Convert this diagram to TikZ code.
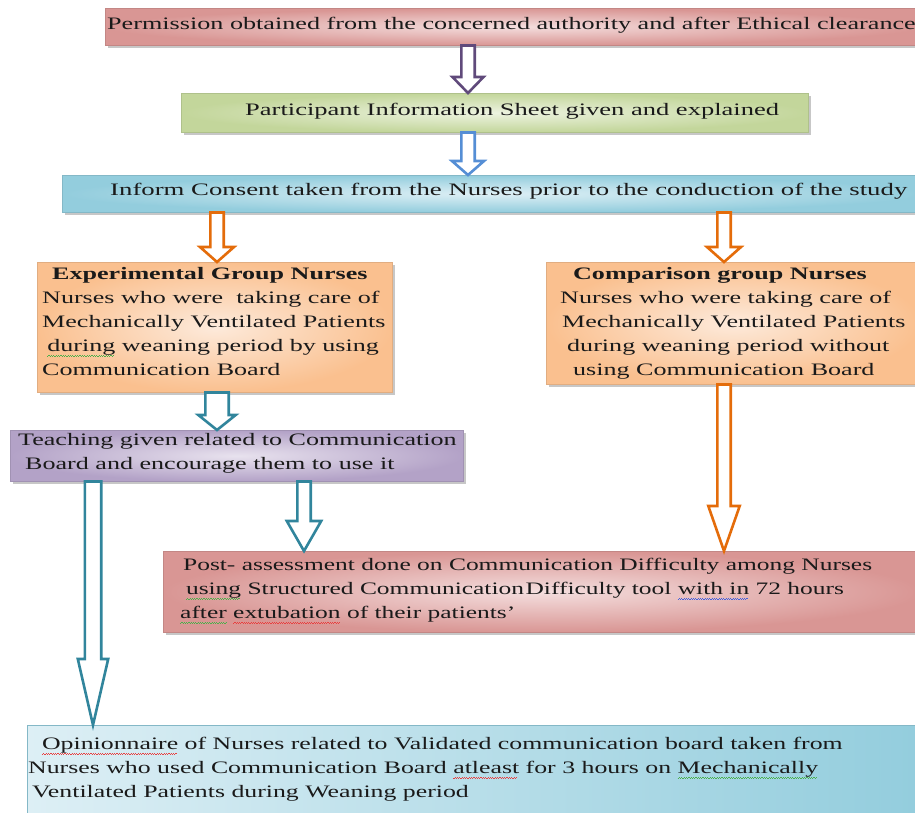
\documentclass[tikz,border=0pt]{standalone}
\usepackage{fontspec}
\setmainfont{Liberation Serif}
\usetikzlibrary{calc,shadows}
\definecolor{redD}{HTML}{D99694}
\definecolor{redL}{HTML}{F4DEDE}
\definecolor{grnD}{HTML}{C3D69B}
\definecolor{grnL}{HTML}{EDF3E0}
\definecolor{bluD}{HTML}{93CDDD}
\definecolor{bluL}{HTML}{DDEFF5}
\definecolor{orgD}{HTML}{FAC08F}
\definecolor{orgL}{HTML}{FDEADB}
\definecolor{purD}{HTML}{B3A2C7}
\definecolor{purL}{HTML}{E8E2EE}
\definecolor{arPur}{HTML}{604A7B}
\definecolor{arBlu}{HTML}{558ED5}
\definecolor{arOrg}{HTML}{E46C0A}
\definecolor{arTea}{HTML}{31859C}
\definecolor{txtc}{HTML}{1A1A1A}
\definecolor{sqGrn}{HTML}{4CB04C}
\definecolor{sqRed}{HTML}{E84040}
\definecolor{sqBlu}{HTML}{4060E0}
\newsavebox\sqbox
\newcommand\wtext[2][1.49]{\scalebox{#1}[1]{\fontsize{17.5}{24}\selectfont\begin{tabular}{@{}l@{}}#2\end{tabular}}}
\newcommand\squig[2]{\sbox\sqbox{#2}\rlap{\color{#1}\leaders\hbox{\rule[-4.3pt]{0.8pt}{0.5pt}\rule[-3.7pt]{0.8pt}{0.5pt}}\hskip\wd\sqbox}\usebox\sqbox}
\newcommand\sqg[1]{\squig{sqGrn}{#1}}
\newcommand\sqr[1]{\squig{sqRed}{#1}}
\newcommand\sqb[1]{\squig{sqBlu}{#1}}
% block arrow: style, from, to, half shaft, half head, head length
\newcommand\barrow[6]{%
  \draw[#1] let \p1=#2, \p2=#3 in
    (\x1-#4,\y1) -- (\x1-#4,\y2+#6) -- (\x1-#5,\y2+#6) -- (\x1,\y2)
    -- (\x1+#5,\y2+#6) -- (\x1+#4,\y2+#6) -- (\x1+#4,\y1) -- cycle;}
\tikzset{
  boxbase/.style={anchor=north west, inner sep=0pt,
    drop shadow={shadow xshift=2.5pt, shadow yshift=-2.5pt, fill=black, opacity=0.22}},
  redbox/.style={boxbase, draw=redD!90!black, line width=0.5pt, inner color=redL, outer color=redD},
  grnbox/.style={boxbase, draw=grnD!90!black, line width=0.5pt, inner color=grnL, outer color=grnD},
  blubox/.style={boxbase, draw=bluD!90!black, line width=0.5pt, inner color=bluL, outer color=bluD},
  blubox2/.style={boxbase, draw=bluD!90!black, line width=0.5pt, left color=bluL, right color=bluD},
  orgbox/.style={boxbase, draw=orgD!90!black, line width=0.5pt, inner color=orgL, outer color=orgD},
  purbox/.style={boxbase, draw=purD!90!black, line width=0.5pt, inner color=purL, outer color=purD},
  txt/.style={anchor=west, inner sep=0pt, text=txtc},
  barr/.style={draw=#1, line width=2.6pt, fill=white, line join=miter}
}
\begin{document}
\begin{tikzpicture}[x=1pt,y=-1pt]
\useasboundingbox (0,0) rectangle (915,812);
% boxes
\node[redbox, minimum width=815pt, minimum height=37pt] (b1) at (105,8) {};
\node[grnbox, minimum width=627pt, minimum height=39pt] (b2) at (181,93) {};
\node[blubox, minimum width=858pt, minimum height=37pt] (b3) at (62,175) {};
\node[orgbox, minimum width=355pt, minimum height=130pt] (b4) at (37,262) {};
\node[orgbox, minimum width=374pt, minimum height=122pt] (b5) at (546,262) {};
\node[purbox, minimum width=453pt, minimum height=51pt] (b6) at (10,430) {};
\node[redbox, minimum width=757pt, minimum height=81pt] (b7) at (163,551) {};
\node[blubox2, minimum width=893pt, minimum height=92pt] (b8) at (27,725) {};
% texts
\node[txt] (t1) at (107,25) {\wtext[1.495]{Permission obtained from the concerned authority and after Ethical clearance}};
\node[txt] (t2) at (245,111) {\wtext[1.515]{Participant Information Sheet given and explained}};
\node[txt] (t3) at (110,191) {\wtext[1.53]{Inform Consent taken from the Nurses prior to the conduction of the study}};
\node[txt] (t4) at (42,323) {\wtext{\hspace{6.7pt}\textbf{Experimental Group Nurses}\\
  Nurses who were \ taking care of\\
  Mechanically Ventilated Patients\\
  \hspace{3.4pt}\sqg{during} weaning period by using\\
  Communication Board}};
\node[txt] (t5) at (560,323) {\wtext{\hspace{8.7pt}\textbf{Comparison group Nurses}\\
  Nurses who were taking care of\\
  \hspace{1.3pt}Mechanically Ventilated Patients\\
  \hspace{4.7pt}during weaning period without\\
  \hspace{8.7pt}using Communication Board}};
\node[txt] (t6) at (18,453) {\wtext{Teaching given related to Communication\\
  \hspace{4.7pt}Board and encourage them to use it}};
\node[txt] (t7) at (180,590) {\wtext[1.455]{\hspace{2pt}Post- assessment done on Communication Difficulty among Nurses\\
  \hspace{4pt}\sqg{using} Structured Communication\hspace{1pt}Difficulty tool \sqb{with in} 72 hours\\
  \sqg{after} \sqr{extubation} of their patients’}};
\node[txt] (t8) at (28,769) {\wtext[1.475]{\hspace{9.4pt}\sqr{Opinionnaire} of Nurses related to Validated communication board taken from\\
  Nurses who used Communication Board \sqr{atleast} for 3 hours on \sqg{Mechanically}\\
  \hspace{2.7pt}Ventilated Patients during Weaning period}};
% arrow x positions
\coordinate (x1) at (468,0);
\coordinate (x2) at (217,0);
\coordinate (x3) at (724,0);
\coordinate (x4) at (304,0);
\coordinate (x5) at (93,0);
% arrows
\barrow{barr=arPur}{(b1.south -| x1)}{(b2.north -| x1)}{6.7pt}{15.5pt}{16pt}
\barrow{barr=arBlu}{(b2.south -| x1)}{(b3.north -| x1)}{6.7pt}{16pt}{14pt}
\barrow{barr=arOrg}{(b3.south -| x2)}{(b4.north -| x2)}{6.7pt}{17pt}{15pt}
\barrow{barr=arOrg}{(b3.south -| x3)}{(b5.north -| x3)}{6.7pt}{17pt}{15pt}
\barrow{barr=arTea}{(b4.south -| x2)}{(b6.north -| x2)}{11.7pt}{18.7pt}{15pt}
\barrow{barr=arOrg}{(b5.south -| x3)}{(b7.north -| x3)}{6.7pt}{15.7pt}{45pt}
\barrow{barr=arTea}{(b6.south -| x4)}{(b7.north -| x4)}{6.7pt}{17.2pt}{30pt}
\barrow{barr=arTea}{(b6.south -| x5)}{(b8.north -| x5)}{8.2pt}{15.2pt}{66pt}
\end{tikzpicture}
\end{document}
